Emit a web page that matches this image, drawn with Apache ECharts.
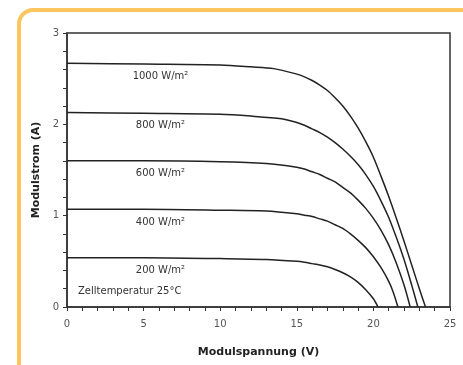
<!DOCTYPE html>
<html>
<head>
<meta charset="utf-8">
<script src="https://cdn.jsdelivr.net/npm/echarts@6/dist/echarts.min.js"></script>
<style>html,body{margin:0;padding:0;background:#fff}#c{width:463px;height:365px}</style>
</head>
<body>
<div id="c"></div>
<script>
// Irradiance labels
const irradiance = ['1000', '800', '600', '400', '200'];
// I-V curves: [voltage V, current A]
const curve1000 = [[0,2.67],[5,2.66],[10,2.65],[12,2.63],[13.5,2.61],[15,2.55],[15.5,2.52],[16,2.48],[16.5,2.43],[17,2.37],[17.5,2.29],[18,2.2],[18.5,2.09],[19,1.96],[19.5,1.81],[20,1.64],[20.5,1.43],[21,1.21],[21.5,0.97],[22,0.72],[22.5,0.46],[23,0.2],[23.4,0]];
const curve800 = [[0,2.13],[5,2.12],[10,2.11],[12,2.09],[14,2.06],[15,2.02],[15.5,1.99],[16,1.95],[16.5,1.91],[17,1.86],[17.5,1.8],[18,1.73],[18.5,1.65],[19,1.56],[19.5,1.45],[20,1.32],[20.5,1.16],[21,0.98],[21.5,0.76],[22,0.52],[22.5,0.24],[22.9,0]];
const curve600 = [[0,1.6],[5,1.6],[10,1.59],[13,1.57],[15,1.53],[15.5,1.51],[16,1.48],[16.5,1.45],[17,1.41],[17.5,1.37],[18,1.31],[18.5,1.25],[19,1.17],[19.5,1.08],[20,0.97],[20.5,0.84],[21,0.68],[21.5,0.48],[22,0.24],[22.4,0]];
const curve400 = [[0,1.07],[5,1.07],[10,1.06],[13,1.05],[15,1.02],[15.5,1.005],[16,0.99],[16.5,0.965],[17,0.94],[17.5,0.9],[18,0.86],[18.5,0.8],[19,0.73],[19.5,0.65],[20,0.55],[20.5,0.43],[21,0.28],[21.3,0.16],[21.6,0]];
const curve200 = [[0,0.54],[5,0.54],[10,0.53],[13,0.52],[15,0.5],[15.5,0.49],[16,0.475],[16.5,0.46],[17,0.44],[17.5,0.41],[18,0.375],[18.5,0.33],[19,0.27],[19.5,0.19],[20,0.09],[20.3,0]];
const curves = [curve1000, curve800, curve600, curve400, curve200];
const xTitle = 'Modulspannung (V)';
const yTitle = 'Modulstrom (A)';
const noteText = 'Zelltemperatur 25°C';
const labelVoltage = 6.1;

const FONT = '"DejaVu Sans", sans-serif';
const chart = echarts.init(document.getElementById('c'), null, {renderer: 'canvas'});

const series = curves.map((c, i) => ({
  type: 'line',
  data: c,
  smooth: 0.3,
  symbol: 'none',
  lineStyle: {color: '#222', width: 1.5},
  silent: true,
  markPoint: {
    symbol: 'circle', symbolSize: 0, silent: true,
    label: {
      show: true, position: 'inside', offset: [0, 13],
      formatter: irradiance[i] + ' W/m²',
      color: '#333', fontSize: 10, fontFamily: FONT
    },
    data: [{coord: [labelVoltage, c[0][1]]}]
  }
}));

chart.setOption({
  animation: false,
  backgroundColor: '#fff',
  grid: {left: 67, right: 13, top: 33, bottom: 58, show: true, borderColor: '#333', borderWidth: 1.5, backgroundColor: 'transparent'},
  xAxis: {
    type: 'value', min: 0, max: 25, interval: 5,
    name: xTitle, nameLocation: 'middle', nameGap: 40,
    nameTextStyle: {fontFamily: FONT, fontWeight: 'bold', fontSize: 11, color: '#222'},
    axisLine: {show: true, lineStyle: {color: '#333', width: 1.5}},
    axisTick: {show: true, length: 4, inside: false, lineStyle: {color: '#333'}},
    minorTick: {show: true, splitNumber: 5, length: 4, lineStyle: {color: '#333'}},
    splitLine: {show: false},
    axisLabel: {color: '#555', fontSize: 10, fontFamily: FONT, margin: 12}
  },
  yAxis: {
    type: 'value', min: 0, max: 3, interval: 1,
    name: yTitle, nameLocation: 'middle', nameGap: 22, nameRotate: 90,
    nameTextStyle: {fontFamily: FONT, fontWeight: 'bold', fontSize: 11, color: '#222'},
    axisLine: {show: true, lineStyle: {color: '#333', width: 1.5}},
    axisTick: {show: true, length: 4, lineStyle: {color: '#333'}},
    minorTick: {show: true, splitNumber: 5, length: 4, lineStyle: {color: '#333'}},
    splitLine: {show: false},
    axisLabel: {color: '#555', fontSize: 10, fontFamily: FONT, margin: 8}
  },
  graphic: [
    {type: 'rect', shape: {x: 19, y: 10, width: 600, height: 500, r: 14}, style: {fill: 'none', stroke: '#FDC55E', lineWidth: 4}, silent: true, z: 100},
    {type: 'text', left: 78, top: 286, style: {text: noteText, fill: '#333', font: '10px ' + FONT}, silent: true}
  ],
  series: series
});
</script>
</body>
</html>
